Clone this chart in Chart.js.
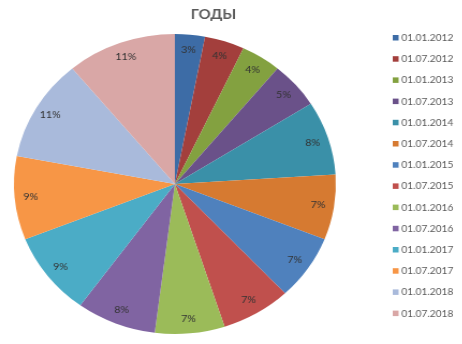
<!DOCTYPE html>
<html>
<head>
<meta charset="utf-8">
<script src="https://cdn.jsdelivr.net/npm/chart.js@4/dist/chart.umd.min.js"></script>
<style>
  html, body { margin: 0; padding: 0; background: #fff; overflow: hidden; }
  #wrap { width: 431px; height: 344px; transform: scaleX(1.073); transform-origin: 0 0; }
</style>
</head>
<body>
<div id="wrap"><canvas id="pieChart" width="431" height="344"></canvas></div>
<script>
const labels = ["01.01.2012", "01.07.2012", "01.01.2013", "01.07.2013", "01.01.2014", "01.07.2014", "01.01.2015",
  "01.07.2015", "01.01.2016", "01.07.2016", "01.01.2017", "01.07.2017", "01.01.2018", "01.07.2018"];
const shares = [3, 4, 4, 5, 8, 7, 7, 7, 7, 8, 9, 9, 11, 11];
const colors = ["#3d6ca6", "#a33f3c", "#83a140", "#6a5189", "#3a90a8", "#d67a31", "#4f81bd",
  "#c0504d", "#9bbb59", "#8064a2", "#4bacc6", "#f79646", "#a9badb", "#d9a7a6"];
const title = "ГОДЫ";

const FONT = "Lato, 'Open Sans', sans-serif";

// percent labels near the outer edge + title + legend on the right
const decorations = {
  id: "decorations",
  afterDatasetsDraw(chart) {
    const c = chart.ctx;
    const arcs = chart.getDatasetMeta(0).data;
    c.save();
    c.font = "10px " + FONT;
    c.fillStyle = "#333333";
    c.textAlign = "center";
    c.textBaseline = "middle";
    arcs.forEach((arc, i) => {
      const p = arc.getProps(["x", "y", "startAngle", "endAngle", "outerRadius"], true);
      const mid = (p.startAngle + p.endAngle) / 2;
      const r = p.outerRadius * 0.9;
      c.fillText(shares[i] + "%", p.x + Math.cos(mid) * r, p.y + Math.sin(mid) * r);
    });

    c.font = "bold 14px " + FONT;
    c.fillStyle = "#595959";
    c.fillText(title, 199, 14);

    c.font = "9.5px " + FONT;
    c.textAlign = "left";
    labels.forEach((lab, i) => {
      const y = 38 + i * 21.2;
      c.fillStyle = colors[i];
      c.fillRect(366, y - 3, 5.5, 5.5);
      c.fillStyle = "#595959";
      c.fillText(lab, 374, y);
    });
    c.restore();
  }
};

new Chart(document.getElementById("pieChart"), {
  type: "pie",
  data: {
    labels: labels,
    datasets: [{
      data: shares,
      backgroundColor: colors,
      borderWidth: 0
    }]
  },
  options: {
    responsive: false,
    animation: false,
    layout: { padding: { left: 13, right: 118, top: 34, bottom: 10 } },
    plugins: {
      legend: { display: false },
      title: { display: false },
      tooltip: { enabled: false }
    }
  },
  plugins: [decorations]
});
</script>
</body>
</html>
